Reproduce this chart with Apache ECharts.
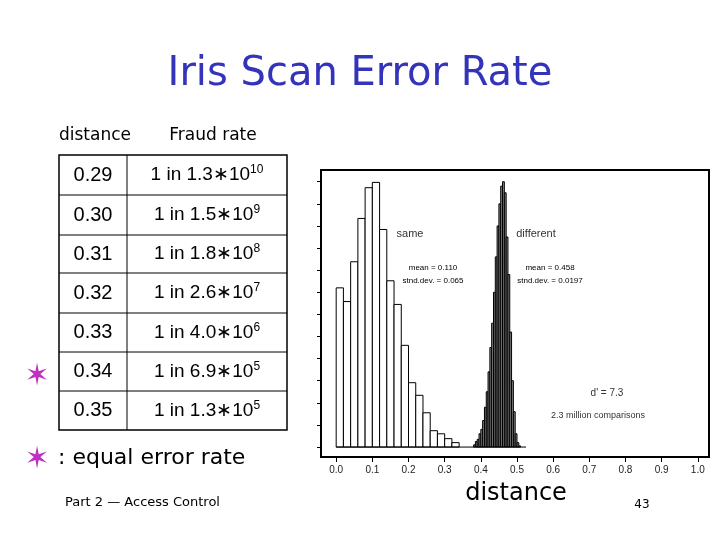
<!DOCTYPE html>
<html><head><meta charset="utf-8">
<script src="https://cdn.jsdelivr.net/npm/echarts@6/dist/echarts.min.js"></script>
<style>html,body{margin:0;padding:0;background:#fff}#c{width:720px;height:540px}</style>
</head><body><div id="c"></div>
<script>
// "same" histogram: bins of width 0.02 starting at 0
const sameStart = 0, sameWidth = 0.02;
const sameValues = [7.2, 6.58, 8.38, 10.34, 11.73, 11.97, 9.84, 7.52, 6.45, 4.6, 2.91, 2.34, 1.55, 0.74, 0.60, 0.38, 0.2];
// "different" histogram: bins of width 0.005 starting at 0.38
const diffStart = 0.38, diffWidth = 0.005;
const diffValues = [0.1, 0.25, 0.35, 0.6, 0.8, 1.2, 1.8, 2.5, 3.4, 4.5, 5.6, 7.0, 8.6, 10.0, 11.0, 11.8, 12.0, 11.5, 9.5, 7.8, 5.2, 3.0, 1.6, 0.6, 0.2, 0.05];
const baselineRange = [0, 0.525];
const xTicks = [0, 0.1, 0.2, 0.3, 0.4, 0.5, 0.6, 0.7, 0.8, 0.9, 1.0];
const yTicks = [0,1,2,3,4,5,6,7,8,9,10,11,12];
const tableDistance = ['0.29','0.30','0.31','0.32','0.33','0.34','0.35'];
const tableMantissa = ['1.3','1.5','1.8','2.6','4.0','6.9','1.3'];
const tableExponent = ['10','9','8','7','6','5','5'];

function bins(start, w, vals){ return vals.map((v,i)=>[start+i*w, start+(i+1)*w, v]); }
function renderRect(fill){
  return function(params, api){
    const p0 = api.coord([api.value(0), 0]);
    const p1 = api.coord([api.value(1), api.value(2)]);
    return {type:'rect', shape:{x:p0[0], y:p1[1], width:p1[0]-p0[0], height:p0[1]-p1[1]},
      style:{fill:fill, stroke:'#000', lineWidth:1}};
  };
}
const chart = echarts.init(document.getElementById('c'));
const graphics = [];
const rowTops = [155,195,235,273,313,352,391,430];
const tL=59, tM=127, tR=287;
graphics.push({type:'rect', shape:{x:tL,y:rowTops[0],width:tR-tL,height:rowTops[7]-rowTops[0]}, style:{fill:'none',stroke:'#000',lineWidth:1.5}});
graphics.push({type:'line', shape:{x1:tM,y1:rowTops[0],x2:tM,y2:rowTops[7]}, style:{stroke:'#000',lineWidth:1}});
for(let i=1;i<7;i++) graphics.push({type:'line', shape:{x1:tL,y1:rowTops[i],x2:tR,y2:rowTops[i]}, style:{stroke:'#000',lineWidth:1}});
tableDistance.forEach((d,i)=>{
  const cy=(rowTops[i]+rowTops[i+1])/2;
  graphics.push({type:'text', x:(tL+tM)/2, y:cy, style:{text:d, font:'20px Liberation Sans, Arial', fill:'#000', align:'center', verticalAlign:'middle'}});
  graphics.push({type:'text', x:(tM+tR)/2, y:cy, style:{text:'{a|1 in '+tableMantissa[i]+'∗10}{s|'+tableExponent[i]+'}',
    rich:{a:{font:'19px Liberation Sans, Arial', fill:'#000'}, s:{font:'12px Liberation Sans, Arial', fill:'#000', verticalAlign:'top', padding:[0,0,10,0]}},
    align:'center', verticalAlign:'middle'}});
});
const T = (text,x,y,font,opts)=>graphics.push({type:'text', x, y, style:Object.assign({text, font, fill:'#000', align:'center', verticalAlign:'middle'}, opts||{})});
T('Iris Scan Error Rate',360,75,'40px "DejaVu Sans"',{fill:'#3434bb'});
T('distance',95,136,'17px "DejaVu Sans"');
T('Fraud rate',213,136,'17px "DejaVu Sans"');
T('✶',37,377,'30px "DejaVu Sans"',{fill:'#c030c0'});
T('✶',37,460,'30px "DejaVu Sans"',{fill:'#c030c0'});
T(': equal error rate',58,458,'22px "DejaVu Sans"',{align:'left'});
T('Part 2 — Access Control',65,503,'13px "DejaVu Sans"',{align:'left'});
T('distance',516,494,'24px "DejaVu Sans"');
T('43',642,505,'12px "DejaVu Sans"');
T('same',410,234,'11px Liberation Sans',{fill:'#333'});
T('different',536,234,'11px Liberation Sans',{fill:'#333'});
T('mean = 0.110',433,268,'8px Liberation Sans');
T('stnd.dev. = 0.065',433,281,'8px Liberation Sans');
T('mean = 0.458',550,268,'8px Liberation Sans');
T('stnd.dev. = 0.0197',550,281,'8px Liberation Sans');
T("d' = 7.3",607,393,'10px Liberation Sans',{fill:'#333'});
T('2.3 million comparisons',598,416,'9px Liberation Sans',{fill:'#333'});

chart.setOption({
  animation:false,
  grid:{left:321, right:11, top:170, bottom:83, show:true, borderColor:'#000', borderWidth:2},
  xAxis:{type:'value', min:-0.042, max:1.031, axisLine:{show:false, onZero:false}, splitLine:{show:false},
    axisTick:{show:true, length:5, lineStyle:{color:'#000'}, customValues:xTicks},
    axisLabel:{customValues:xTicks, formatter:v=>v.toFixed(1), fontSize:10, color:'#222', margin:8, fontFamily:'Liberation Sans'}},
  yAxis:{type:'value', min:-0.45, max:12.53, axisLine:{show:false, onZero:false}, splitLine:{show:false},
    axisTick:{show:true, length:4, lineStyle:{color:'#000'}, customValues:yTicks},
    axisLabel:{show:false}},
  series:[
    {type:'line', data:[[baselineRange[0],0],[baselineRange[1],0]], symbol:'none', lineStyle:{color:'#000',width:1}},
    {type:'custom', renderItem:renderRect('#fff'), data:bins(sameStart,sameWidth,sameValues), encode:{x:[0,1],y:2}},
    {type:'custom', renderItem:renderRect('#888'), data:bins(diffStart,diffWidth,diffValues), encode:{x:[0,1],y:2}}
  ],
  graphic:graphics
});
</script></body></html>
